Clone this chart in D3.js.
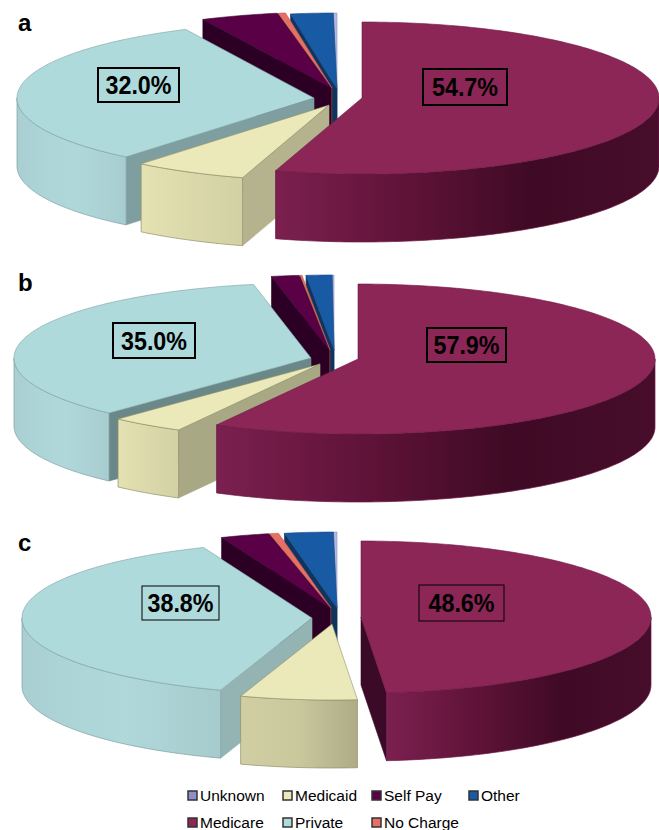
<!DOCTYPE html>
<html>
<head>
<meta charset="utf-8">
<script src="https://cdn.jsdelivr.net/npm/d3@7/dist/d3.min.js"></script>
<style>
  html, body { margin: 0; padding: 0; background: #fff; overflow: hidden; }
  svg { display: block; }
  text { font-family: "Liberation Sans", Arial, sans-serif; fill: #000; }
</style>
</head>
<body>
<svg id="chart" width="659" height="830"></svg>
<script>
// Payer mix, clockwise from twelve o'clock
const categories = ["Medicare", "Medicaid", "Private", "Self Pay", "No Charge", "Other", "Unknown"];
const valuesA = [54.7, 6.2, 32.0, 4.2, 0.4, 2.3, 0.2];
const valuesB = [57.9, 4.0, 35.0, 1.5, 0.1, 1.4, 0.1];
const valuesC = [48.6, 6.5, 38.8, 2.7, 0.5, 2.7, 0.2];

const panelLetters = ["a", "b", "c"];
const labelledCategories = ["Private", "Medicare"];
const legendRows = [["Unknown", "Medicaid", "Self Pay", "Other"], ["Medicare", "Private", "No Charge"]];

// Fill for each slice: top face, cut face, wall from left to right, outline
const palette = {
  "Medicare":  { top: "#8c2657", cut: "#3a0a26", wall: ["#7b2050", "#601338", "#3f0a25", "#470d2b"], line: "#6d1a44", swatch: "#8c2657" },
  "Medicaid":  { top: "#ebe9b9", cut: "#b4b38d", wall: ["#e4e1b2", "#d2d1a4"], line: "#8f8f68", swatch: "#ebe9b9" },
  "Private":   { top: "#afdadc", cut: "#7e9e9f", wall: ["#a9cfd2", "#b0d8da", "#a8cdd0"], line: "#7f9fa2", swatch: "#afdadc" },
  "Self Pay":  { top: "#5a0046", cut: "#2b0024", wall: ["#40002f", "#2b0024"], line: "#3a0030", swatch: "#5a0046" },
  "No Charge": { top: "#e66f66", cut: "#7a3a36", wall: ["#b9564f", "#a24a44"], line: "#c25a52", swatch: "#e66f66" },
  "Other":     { top: "#195aa5", cut: "#0e3560", wall: ["#144a86", "#0e3560"], line: "#134a88", swatch: "#195aa5" },
  "Unknown":   { top: "#b4b8e0", cut: "#6a6d96", wall: ["#8a8dbc", "#6a6d96"], line: "#8d90c0", swatch: "#8e8ec8" }
};

// Pie geometry per panel: radii, extrusion and where each exploded apex lands
const panels = [
  { values: valuesA, rx: 297, ry: 76, depth: 68,
    apex: [[362, 98], [329, 105], [314, 98], [331, 88], [332, 88], [337, 89], [337, 89]],
    boxes: { "Private": [98, 68, 81, 34], "Medicare": [423, 69, 84, 36] }, boxStroke: 2,
    letterY: 31, cutShade: {} },
  { values: valuesB, rx: 297, ry: 75, depth: 68,
    apex: [[358, 359], [320, 364], [311, 358], [329, 350], [330, 350], [334, 350], [334, 350]],
    boxes: { "Private": [113, 323, 82, 35], "Medicare": [427, 328, 79, 34] }, boxStroke: 2,
    letterY: 291, cutShade: { "Private": "#6b8889", "Medicaid": "#a9a884" } },
  { values: valuesC, rx: 290, ry: 76, depth: 68,
    apex: [[361, 617], [332, 624], [312, 618], [330, 608], [331, 608], [337, 608], [337, 608]],
    boxes: { "Private": [142, 586, 77, 34], "Medicare": [419, 585, 85, 36] }, boxStroke: 1,
    letterY: 551, cutShade: { "Private": "#94b4b4" },
    wallShade: { "Medicaid": ["#d0cea2", "#c9c79c", "#aeac86"], "Private": ["#a9cfd2", "#b0d8da", "#a6cbcd"] } }
];

// Legend placement
const legendColumns = [188, 283, 372, 469];
const legendRowY = [791, 818];
const swatchSize = 9;

const svg = d3.select("#chart");
const defs = svg.append("defs");
const line = d3.line();
const pie = d3.pie().sort(null).startAngle(0).endAngle(2 * Math.PI);

function rimPoint(panel, apex, angle) {
  return [apex[0] + panel.rx * Math.sin(angle), apex[1] - panel.ry * Math.cos(angle)];
}

function rimPoints(panel, apex, a0, a1) {
  const steps = Math.max(2, Math.ceil((a1 - a0) / 0.02));
  const angle = d3.scaleLinear().domain([0, steps]).range([a0, a1]);
  return d3.range(steps + 1).map(i => rimPoint(panel, apex, angle(i)));
}

function drawSlice(group, panel, panelIndex, arc) {
  const name = categories[arc.index];
  const colors = palette[name];
  const apex = panel.apex[arc.index];
  const a0 = arc.startAngle, a1 = arc.endAngle;
  const cutFill = panel.cutShade[name] || colors.cut;
  const drop = p => [p[0], p[1] + panel.depth];
  const g = group.append("g").attr("class", "slice");

  // Cut faces only show when they turn toward the viewer
  const cutFace = angle => {
    const p = rimPoint(panel, apex, angle);
    g.append("path")
      .attr("d", line([apex, p, drop(p), drop(apex)]) + "Z")
      .attr("fill", cutFill)
      .attr("stroke", cutFill)
      .attr("stroke-width", 0.6);
  };
  if (Math.sin(a0) < 0) cutFace(a0);
  if (Math.sin(a1) > 0) cutFace(a1);

  // Outer wall on the front half of the rim
  const w0 = Math.max(a0, Math.PI / 2), w1 = Math.min(a1, 3 * Math.PI / 2);
  if (w1 > w0) {
    const stops = (panel.wallShade && panel.wallShade[name]) || colors.wall;
    const id = `wall-${panelIndex}-${arc.index}`;
    const grad = defs.append("linearGradient").attr("id", id);
    stops.forEach((c, i) => grad.append("stop")
      .attr("offset", i / (stops.length - 1))
      .attr("stop-color", c));
    const upper = rimPoints(panel, apex, w0, w1);
    const outline = upper.concat(upper.slice().reverse().map(drop));
    g.append("path")
      .attr("d", line(outline) + "Z")
      .attr("fill", `url(#${id})`)
      .attr("stroke", colors.line)
      .attr("stroke-width", 0.7);
  }

  // Top face
  const face = [apex].concat(rimPoints(panel, apex, a0, a1));
  g.append("path")
    .attr("d", line(face) + "Z")
    .attr("fill", colors.top)
    .attr("stroke", colors.line)
    .attr("stroke-width", 0.6)
    .attr("stroke-linejoin", "round");
}

panels.forEach((panel, panelIndex) => {
  const group = svg.append("g").attr("class", "panel");
  const arcs = pie(panel.values);

  // Back slices first, then Private, Medicaid and finally Medicare in front
  const paintOrder = ["Unknown", "Other", "No Charge", "Self Pay", "Private", "Medicaid", "Medicare"];
  paintOrder.forEach(name => drawSlice(group, panel, panelIndex, arcs[categories.indexOf(name)]));

  // Boxed percentages
  labelledCategories.forEach(name => {
    const [x, y, w, h] = panel.boxes[name];
    const value = panel.values[categories.indexOf(name)];
    group.append("rect")
      .attr("x", x).attr("y", y).attr("width", w).attr("height", h)
      .attr("fill", "none").attr("stroke", "#000").attr("stroke-width", panel.boxStroke);
    group.append("text")
      .attr("x", x + w / 2).attr("y", y + h / 2 + 9)
      .attr("text-anchor", "middle")
      .attr("font-size", 25).attr("font-weight", 700)
      .attr("textLength", 66).attr("lengthAdjust", "spacingAndGlyphs")
      .text(d3.format(".1f")(value) + "%");
  });

  // Panel letter
  svg.append("text")
    .attr("x", 18).attr("y", panel.letterY)
    .attr("font-size", 24).attr("font-weight", 700)
    .text(panelLetters[panelIndex]);
});

// Legend
const legend = svg.append("g").attr("class", "legend");
legendRows.forEach((row, r) => {
  row.forEach((name, c) => {
    legend.append("rect")
      .attr("x", legendColumns[c]).attr("y", legendRowY[r])
      .attr("width", swatchSize).attr("height", swatchSize)
      .attr("fill", palette[name].swatch)
      .attr("stroke", "#333").attr("stroke-width", 1.5);
    legend.append("text")
      .attr("x", legendColumns[c] + swatchSize + 3)
      .attr("y", legendRowY[r] + 10)
      .attr("font-size", 15.5)
      .attr("fill", "#1a1a1a")
      .text(name);
  });
});
</script>
</body>
</html>
